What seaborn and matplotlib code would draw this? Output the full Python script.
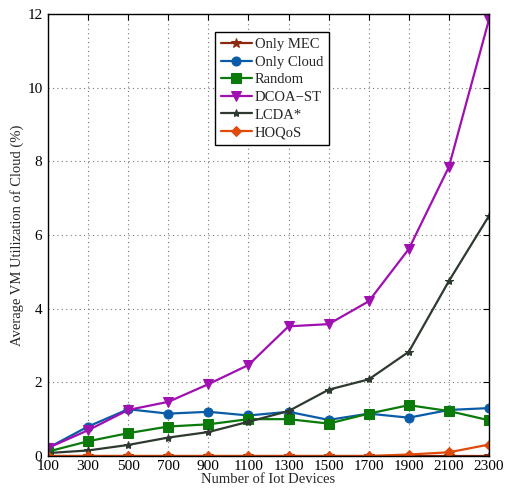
import matplotlib
matplotlib.use("Agg")
import matplotlib.pyplot as plt
import seaborn as sns
import pandas as pd

devices = [100, 300, 500, 700, 900, 1100, 1300, 1500, 1700, 1900, 2100, 2300]
only_mec = [0, 0, 0, 0, 0, 0, 0, 0, 0, 0, 0, 0]
only_cloud = [0.22, 0.80, 1.27, 1.15, 1.20, 1.10, 1.20, 0.98, 1.15, 1.04, 1.25, 1.30]
random_ = [0.12, 0.40, 0.62, 0.80, 0.86, 1.00, 1.00, 0.88, 1.15, 1.38, 1.22, 0.97]
dcoa_st = [0.22, 0.70, 1.25, 1.47, 1.95, 2.47, 3.52, 3.58, 4.20, 5.62, 7.85, 11.85]
lcda = [0.08, 0.15, 0.30, 0.50, 0.65, 0.93, 1.22, 1.80, 2.08, 2.83, 4.75, 6.52]
hoqos = [0, 0, 0, 0, 0, 0, 0, 0, 0, 0.04, 0.10, 0.31]

names = ["Only MEC", "Only Cloud", "Random", "DCOA\u2212ST", "LCDA*", "HOQoS"]
series = [only_mec, only_cloud, random_, dcoa_st, lcda, hoqos]
colors = ["#8B2A10", "#0A5CA8", "#0A7A0A", "#A010B0", "#2E3A30", "#E04A0A"]
markers = ["*", "o", "s", "v", "*", "D"]
msizes = [7, 6.5, 7, 7.5, 6, 5.5]

sns.set_theme(style="white")
plt.rcParams['font.family'] = ['Liberation Serif', 'DejaVu Serif']

fig = plt.figure(figsize=(5.06, 4.88), dpi=100)
ax = fig.add_axes([0.0949, 0.0656, 0.8715, 0.9057])

for name, vals, c, m, ms in zip(names, series, colors, markers, msizes):
    df = pd.DataFrame({"x": devices, "y": vals})
    sns.lineplot(data=df, x="x", y="y", ax=ax, color=c, marker=m, markersize=ms,
                 markeredgecolor=c, markerfacecolor=c, linewidth=1.6, label=name)

ax.set_xlim(100, 2300)
ax.set_ylim(0, 12)
ax.set_xticks(devices)
ax.set_xticklabels([str(d) for d in devices])
ax.set_yticks([0, 2, 4, 6, 8, 10, 12])
ax.grid(True, which='major', linestyle=(0, (1, 3)), color='#777777', linewidth=0.8)
ax.tick_params(axis='both', which='major', direction='in', top=True, right=True,
               labelsize=11, colors='black', length=4, width=0.8)
ax.tick_params(axis='y', pad=4)
ax.tick_params(axis='x', pad=3)
for s in ax.spines.values():
    s.set_color('black')
    s.set_linewidth(1.0)
ax.set_xlabel("Number of Iot Devices", fontsize=10.5, labelpad=0)
ax.set_ylabel("Average VM Utilization of Cloud (%)", fontsize=10.5, labelpad=2)

leg = ax.legend(loc='upper left', bbox_to_anchor=(0.379, 0.959), frameon=True,
                fancybox=False, edgecolor='black', fontsize=10.5, handlelength=2.1,
                borderpad=0.4, labelspacing=0.3, handletextpad=0.2,
                borderaxespad=0)
leg.get_frame().set_linewidth(1.0)
leg.get_frame().set_alpha(1)

fig.savefig("out.png", dpi=100)
